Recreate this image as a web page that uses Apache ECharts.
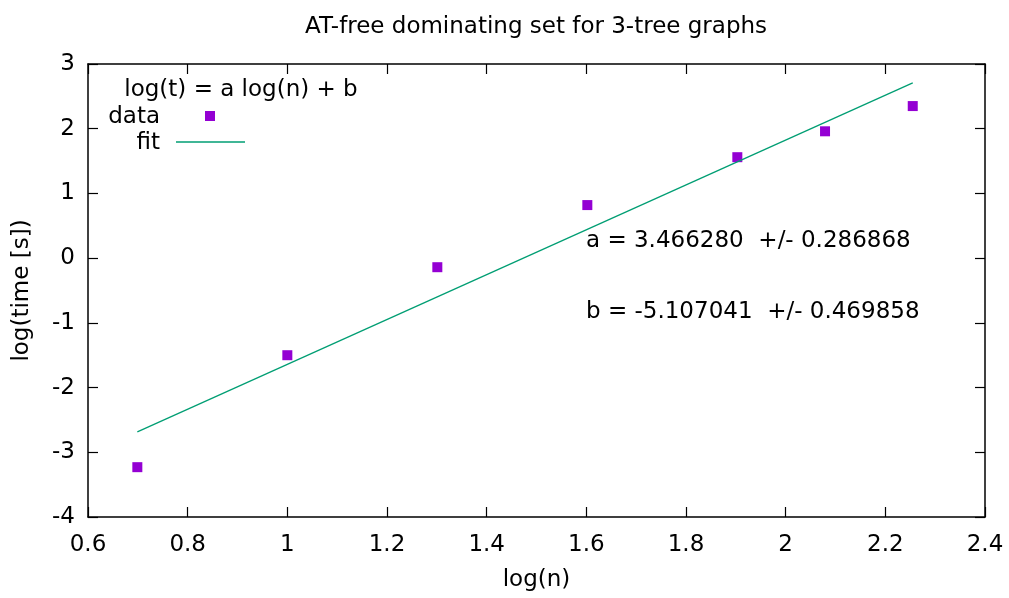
<!DOCTYPE html>
<html lang="en">
<head>
    <meta charset="UTF-8">
    <title>AT-free dominating set for 3-tree graphs</title>
    <script src="https://cdn.jsdelivr.net/npm/echarts@6.0.0/dist/echarts.min.js"></script>
    <style>
        html, body { margin: 0; padding: 0; background: #fff; }
        #chart { width: 1009px; height: 598px; }
    </style>
</head>
<body>
<div id="chart"></div>
<script>
    // data
    var logN = [0.699, 1.0, 1.301, 1.602, 1.903, 2.079, 2.255];
    var logT = [-3.23, -1.50, -0.14, 0.82, 1.56, 1.96, 2.35];
    var fitA = 3.466280, fitAErr = 0.286868;
    var fitB = -5.107041, fitBErr = 0.469858;

    var font = 'DejaVu Sans';
    var fs = 23;
    var fontStr = fs + 'px "' + font + '"';
    var purple = '#9400d3';
    var green = '#009e73';

    var dataPts = logN.map(function (x, i) { return [x, logT[i]]; });
    var xMin = logN[0], xMax = logN[logN.length - 1];
    // fit line endpoints from the fitted coefficients
    var fitPts = [[xMin, fitA * xMin + fitB], [xMax, fitA * xMax + fitB]];

    var chart = echarts.init(document.getElementById('chart'));

    function axisBase(extra) {
        return Object.assign({
            type: 'value',
            axisLine: { show: true, onZero: false, lineStyle: { color: '#000', width: 1.5 } },
            axisTick: { show: true, inside: true, length: 10, lineStyle: { color: '#000', width: 1.2 } },
            splitLine: { show: false },
            axisLabel: { color: '#000', fontFamily: font, fontSize: fs }
        }, extra);
    }

    chart.setOption({
        animation: false,
        textStyle: { fontFamily: font },
        title: {
            text: 'AT-free dominating set for 3-tree graphs',
            left: 531, top: 11, textAlign: 'center',
            textStyle: { fontFamily: font, fontSize: fs, fontWeight: 'normal', color: '#000' }
        },
        grid: { left: 88, right: 24, top: 64, bottom: 81 },
        xAxis: [
            axisBase({
                min: 0.6, max: 2.4, interval: 0.2,
                name: 'log(n)', nameLocation: 'middle', nameGap: 52,
                nameTextStyle: { fontFamily: font, fontSize: fs, color: '#000' },
                axisLabel: { color: '#000', fontFamily: font, fontSize: fs, margin: 17,
                    formatter: function (v) { return String(Math.round(v * 10) / 10); } }
            }),
            axisBase({
                position: 'top', min: 0.6, max: 2.4, interval: 0.2,
                axisLabel: { show: false }
            })
        ],
        yAxis: [
            axisBase({
                min: -4, max: 3, interval: 1,
                name: 'log(time [s])', nameLocation: 'middle', nameGap: 54,
                nameTextStyle: { fontFamily: font, fontSize: fs, color: '#000' },
                axisLabel: { color: '#000', fontFamily: font, fontSize: fs, margin: 13 }
            }),
            axisBase({
                position: 'right', min: -4, max: 3, interval: 1,
                axisLabel: { show: false }
            })
        ],
        series: [
            {
                name: 'fit', type: 'line', data: fitPts,
                symbol: 'none', lineStyle: { color: green, width: 1.3 }
            },
            {
                name: 'data', type: 'scatter', data: dataPts,
                symbol: 'rect', symbolSize: 10, itemStyle: { color: purple, opacity: 1 }
            }
        ],
        graphic: [
            { type: 'text', x: 241, y: 90, style: { text: 'log(t) = a log(n) + b', font: fontStr, fill: '#000', textAlign: 'center', textVerticalAlign: 'middle' } },
            { type: 'text', x: 160, y: 117, style: { text: 'data', font: fontStr, fill: '#000', textAlign: 'right', textVerticalAlign: 'middle' } },
            { type: 'rect', shape: { x: 205, y: 111, width: 10, height: 10 }, style: { fill: purple } },
            { type: 'text', x: 160, y: 143, style: { text: 'fit', font: fontStr, fill: '#000', textAlign: 'right', textVerticalAlign: 'middle' } },
            { type: 'line', shape: { x1: 176, y1: 142, x2: 245, y2: 142 }, style: { stroke: green, lineWidth: 1.3 } },
            { type: 'text', x: 586, y: 241, style: { text: 'a = ' + fitA.toFixed(6) + '  +/- ' + fitAErr.toFixed(6), font: fontStr, fill: '#000', textVerticalAlign: 'middle' } },
            { type: 'text', x: 586, y: 312, style: { text: 'b = ' + fitB.toFixed(6) + '  +/- ' + fitBErr.toFixed(6), font: fontStr, fill: '#000', textVerticalAlign: 'middle' } }
        ]
    });
</script>
</body>
</html>
